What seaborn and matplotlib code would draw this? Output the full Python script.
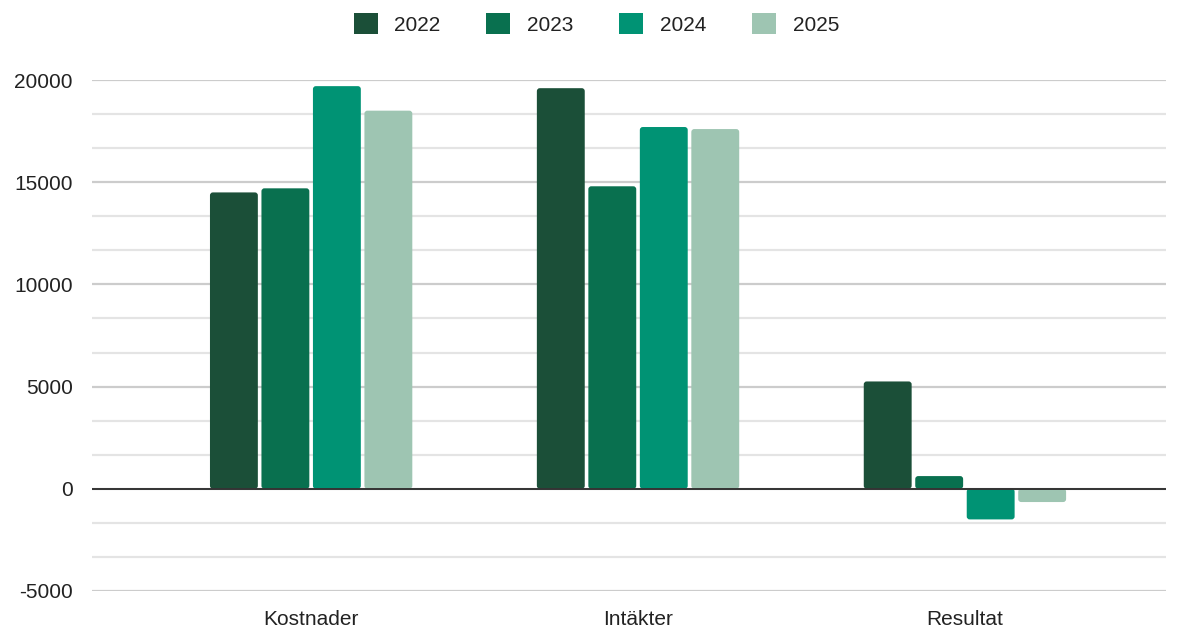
import matplotlib
matplotlib.use("Agg")
import matplotlib.pyplot as plt
import matplotlib.ticker as mticker
from matplotlib.patches import Patch, FancyBboxPatch
import seaborn as sns
import pandas as pd

# values
categories = ["Kostnader", "Intäkter", "Resultat"]
years = ["2022", "2023", "2024", "2025"]
values_2022 = [14500, 19600, 5250]
values_2023 = [14700, 14800, 620]
values_2024 = [19700, 17700, -1500]
values_2025 = [18500, 17600, -650]
colors = ["#1b4f38", "#09704f", "#009374", "#9ec5b2"]

rows = []
for year, vals in zip(years, [values_2022, values_2023, values_2024, values_2025]):
    for cat, v in zip(categories, vals):
        rows.append({"kategori": cat, "år": year, "värde": v})
df = pd.DataFrame(rows)

sns.set_style("white")
plt.rcParams["font.family"] = ["Liberation Sans", "DejaVu Sans"]
plt.rcParams["axes.unicode_minus"] = False

fig = plt.figure(figsize=(11.81, 6.30), dpi=100)
ax = fig.add_axes([0.078, 0.062, 0.909, 0.811])

sns.barplot(data=df, x="kategori", y="värde", hue="år", palette=colors,
            saturation=1, width=0.63, gap=0.07, ax=ax, legend=False, zorder=3)

ax.set_xlim(-0.67, 2.614)
ax.set_ylim(-5000, 20000)

# swap the plain bars for slightly rounded ones
r_x = 0.009
r_aspect = 16000
for bar in list(ax.patches):
    x, y = bar.get_x(), bar.get_y()
    w, h = bar.get_width(), bar.get_height()
    y0, y1 = min(y, y + h), max(y, y + h)
    rb = FancyBboxPatch((x, y0), w, y1 - y0,
                        boxstyle=f"round,pad=0,rounding_size={r_x}",
                        mutation_aspect=r_aspect,
                        facecolor=bar.get_facecolor(), edgecolor="none", zorder=3)
    bar.remove()
    ax.add_patch(rb)

ax.yaxis.set_major_locator(mticker.MultipleLocator(5000))
ax.yaxis.set_minor_locator(mticker.MultipleLocator(5000 / 3))
ax.grid(which="major", axis="y", color="#cccccc", linewidth=1.6, zorder=0)
ax.grid(which="minor", axis="y", color="#e4e4e4", linewidth=1.6, zorder=0)
ax.grid(axis="x", visible=False)
ax.axhline(0, color="#333333", linewidth=1.4, zorder=4)
for s in ax.spines.values():
    s.set_visible(False)
ax.tick_params(axis="both", which="both", length=0, labelsize=15, colors="#222222")
ax.tick_params(axis="y", pad=14)
ax.tick_params(axis="x", pad=14)
ax.set_xlabel("")
ax.set_ylabel("")

handles = [Patch(facecolor=c, edgecolor="none") for c in colors]
fig.legend(handles, years, loc="center", bbox_to_anchor=(0.505, 0.962), ncol=4,
           frameon=False, fontsize=15, handlelength=1.15, handleheight=1.15,
           handletextpad=0.8, columnspacing=2.2, labelcolor="#222222")

fig.savefig("out.png", dpi=100)
